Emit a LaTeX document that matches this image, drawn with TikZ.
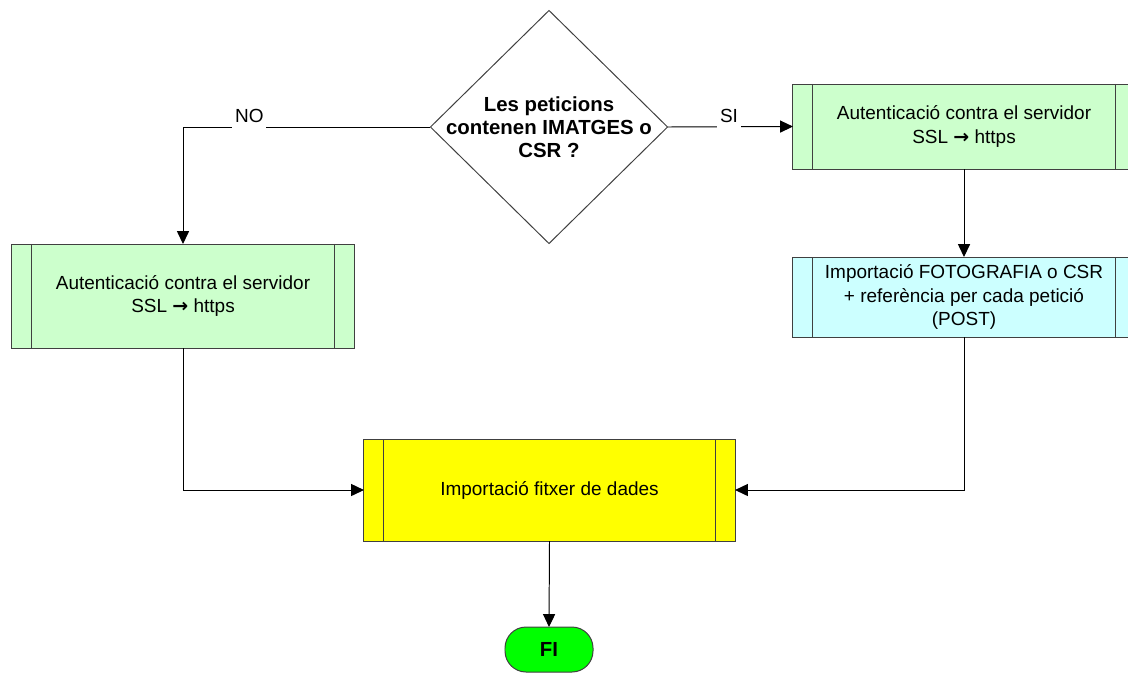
\documentclass[tikz,border=0pt]{standalone}
\usepackage{fontspec}
\setmainfont{Liberation Sans}
\newfontfamily\arrowfont{DejaVu Sans}
\usetikzlibrary{shapes,arrows.meta}

\definecolor{authgreen}{HTML}{CCFFCC}
\definecolor{importcyan}{HTML}{CCFFFF}
\definecolor{fileyellow}{HTML}{FFFF00}
\definecolor{endgreen}{HTML}{00FF00}

\newcommand{\flowfont}{\fontsize{13.5}{17}\selectfont}
\newcommand{\sslarrow}{{\arrowfont\bfseries \symbol{"2192}}}

\begin{document}
\begin{tikzpicture}[x=0.025cm, y=-0.025cm,
    procbox/.style={draw=black!75, line width=0.7pt, outer sep=0pt, align=center,
        font=\flowfont, minimum width=8.55cm,
        path picture={\draw[black!75, line width=0.7pt]
            ([xshift=0.5cm]path picture bounding box.north west) --
            ([xshift=0.5cm]path picture bounding box.south west)
            ([xshift=-0.5cm]path picture bounding box.north east) --
            ([xshift=-0.5cm]path picture bounding box.south east);}},
    decision/.style={diamond, draw=black!75, line width=0.7pt, outer sep=0pt,
        inner sep=0pt, minimum width=5.925cm, minimum height=5.825cm},
    terminal/.style={draw=black!75, line width=0.7pt, outer sep=0pt, fill=endgreen,
        rounded corners=15pt, minimum width=2.2cm, minimum height=1.125cm,
        font=\fontsize{14.5}{17}\selectfont\bfseries},
    branch/.style={fill=white, inner xsep=2pt, inner ysep=4pt, yshift=7.8pt,
        font=\flowfont},
    arr/.style={-{Triangle[length=0.32cm, width=0.3cm]}, line width=0.7pt}]

    % Canvas
    \useasboundingbox (0,0) rectangle (1128,673);
    \clip (0,0) rectangle (1128,673);

    % Question
    \node[decision] (qdec) at (549,127) {};
    \node[align=center, font=\fontsize{14.5}{16.5}\selectfont\bfseries] (qtext) at (qdec)
        {Les peticions\\contenen IMATGES o\\CSR ?};

    % Boxes
    \node[procbox, fill=authgreen, minimum height=2.6cm] (authL) at (183,296)
        {Autenticació contra el servidor\\SSL \sslarrow{} https};
    \node[procbox, fill=authgreen, minimum height=2.125cm] (authR) at (964,126.5)
        {Autenticació contra el servidor\\SSL \sslarrow{} https};
    \node[procbox, fill=importcyan, minimum height=2cm] (importR) at (964,297)
        {Importació FOTOGRAFIA o CSR\\+ referència per cada petició\\(POST)};
    \node[procbox, fill=fileyellow, minimum width=9.275cm, minimum height=2.55cm] (importD) at (549.5,490)
        {Importació fitxer de dades};

    % End
    \node[terminal] (fi) at (549,649.5) {FI};

    % Connectors
    \draw[arr] (qdec.west) -| node[branch, pos=0.366] (lblno) {NO} (authL.north);
    \draw[arr] (qdec.east) -- node[branch, pos=0.49] (lblsi) {SI} (authR.west);
    \draw[arr] (authR.south) -- (importR.north);
    \draw[arr] (importR.south) |- (importD.east);
    \draw[arr] (authL.south) |- (importD.west);
    \draw[arr] (importD.south) -- (fi.north);

\end{tikzpicture}
\end{document}
